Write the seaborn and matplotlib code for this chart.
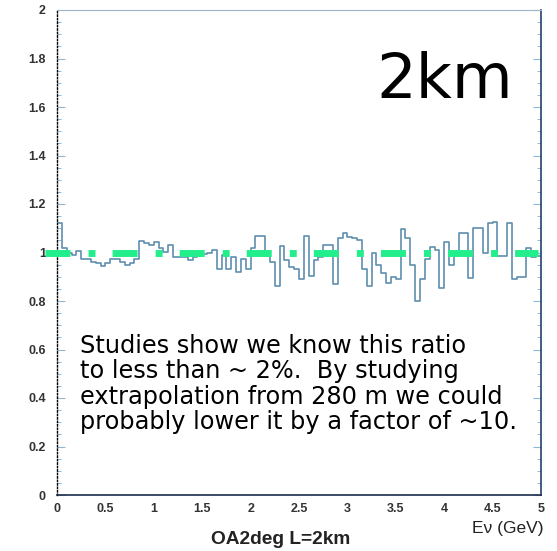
import numpy as np
import pandas as pd
import matplotlib
matplotlib.use("Agg")
import matplotlib.pyplot as plt
import seaborn as sns
from matplotlib.ticker import MultipleLocator, FuncFormatter

# ---------------- data ----------------
bin_edges = [round(0.05 * i, 2) for i in range(101)]   # 100 bins of 0.05 GeV
ratio = [
    1.12, 1.02, 1.00, 0.99, 1.005, 0.975, 0.975, 0.96, 0.955, 0.945,
    0.955, 0.975, 0.975, 0.96, 0.95, 0.955, 0.975, 1.049, 1.041, 1.031,
    1.045, 1.017, 1.003, 1.03, 0.98, 0.98, 0.98, 0.97, 0.98, 0.985,
    0.995, 1.00, 1.01, 0.93, 0.99, 0.93, 0.98, 0.92, 0.975, 0.93,
    1.02, 1.07, 1.07, 0.985, 0.96, 0.86, 1.025, 0.97, 0.94, 0.93,
    0.89, 1.07, 0.905, 0.97, 0.98, 1.03, 1.03, 0.87, 1.06, 1.08,
    1.065, 1.06, 1.05, 0.93, 0.86, 1.00, 0.95, 0.915, 0.876, 0.90,
    0.89, 1.095, 1.058, 0.95, 0.80, 0.89, 0.975, 1.024, 1.01, 0.852,
    1.045, 0.95, 0.99, 1.08, 1.08, 0.893, 1.10, 1.10, 1.00, 1.12,
    1.127, 0.985, 0.985, 1.12, 0.89, 0.90, 0.90, 1.02, 0.98, 0.985,
]
ref_level = 1.0
x_ticks = [0, 0.5, 1, 1.5, 2, 2.5, 3, 3.5, 4, 4.5, 5]
y_ticks = [0, 0.2, 0.4, 0.6, 0.8, 1.0, 1.2, 1.4, 1.6, 1.8, 2.0]
x_label = "E\u03bd (GeV)"
title_text = "OA2deg L=2km"
big_label = "2km"
note_lines = [
    "Studies show we know this ratio",
    "to less than ~ 2%.  By studying",
    "extrapolation from 280 m we could",
    "probably lower it by a factor of ~10.",
]

edges = np.asarray(bin_edges)
centers = 0.5 * (edges[:-1] + edges[1:])
df = pd.DataFrame({"E": centers, "ratio": ratio})

# ---------------- figure ----------------
sns.set_theme(style="white")
plt.rcParams["font.family"] = ["Liberation Sans", "DejaVu Sans"]
plt.rcParams["lines.scale_dashes"] = False

fig = plt.figure(figsize=(5.57, 5.51), dpi=100)
ax = fig.add_axes([57 / 557, 1 - 495 / 551, (541 - 57) / 557, (495 - 10) / 551])
ax.set_facecolor("white")

sns.histplot(data=df, x="E", weights="ratio", bins=bin_edges,
             element="step", fill=False, color="#5f8fae", linewidth=1.2, ax=ax)

ax.set_xlim(0, 5)
ax.set_ylim(0, 2)

# green reference line
ax.axhline(ref_level, xmin=-0.025, xmax=0.994, color="#22ee8c", linewidth=5.0,
           linestyle=(0, (18, 13, 5, 12.3)), solid_capstyle="butt",
           dash_capstyle="butt", clip_on=False, zorder=5)

# spines
ax.spines["left"].set_color("black")
ax.spines["left"].set_linestyle((0, (1, 1.5)))
ax.spines["left"].set_linewidth(1.0)
ax.spines["bottom"].set_color("#1c2c4c")
ax.spines["bottom"].set_linewidth(1.2)
ax.spines["right"].set_color("#24406e")
ax.spines["right"].set_linewidth(1.2)
ax.spines["top"].set_color("#9fb4c8")
ax.spines["top"].set_linewidth(0.8)

# ticks
ax.set_xticks(x_ticks)
ax.set_yticks(y_ticks)
ax.xaxis.set_minor_locator(MultipleLocator(0.1))
ax.yaxis.set_minor_locator(MultipleLocator(0.05))
fmt = FuncFormatter(lambda v, p: f"{v:g}")
ax.xaxis.set_major_formatter(fmt)
ax.yaxis.set_major_formatter(fmt)
ax.tick_params(axis="both", which="major", direction="in", length=5.5, width=0.8,
               color="#8fb8d8", labelsize=9, labelcolor="#333333")
ax.tick_params(axis="both", which="minor", direction="in", length=2.8, width=0.7,
               color="#8fb8d8")
ax.tick_params(axis="y", which="both", right=True, left=True)
ax.tick_params(axis="y", which="major", pad=8)
ax.tick_params(axis="x", which="major", pad=6)
for lab in ax.get_xticklabels() + ax.get_yticklabels():
    lab.set_fontweight("bold")

ax.set_xlabel("")
ax.set_ylabel("")

# axis title (ROOT style, at right end)
fig.text(543 / 557, 1 - 529 / 551, x_label, ha="right", va="center",
         fontsize=12.5, color="#222222", family=["Liberation Sans", "DejaVu Sans"])
fig.text(281 / 557, 1 - 540 / 551, title_text, ha="center", va="center",
         fontsize=13.8, fontweight="bold", color="#222222")

# big label
ax.text(0.802, 0.8186, big_label, transform=ax.transAxes, ha="center", va="baseline",
        fontsize=45, color="black", family=["DejaVu Sans"])

# note
ax.text(80 / 557, 1 - 384 / 551, "\n".join(note_lines), transform=fig.transFigure,
        ha="left", va="center", fontsize=17.3, color="black", linespacing=1.08,
        family=["DejaVu Sans"])

fig.savefig("out.png", dpi=100, facecolor="white")
